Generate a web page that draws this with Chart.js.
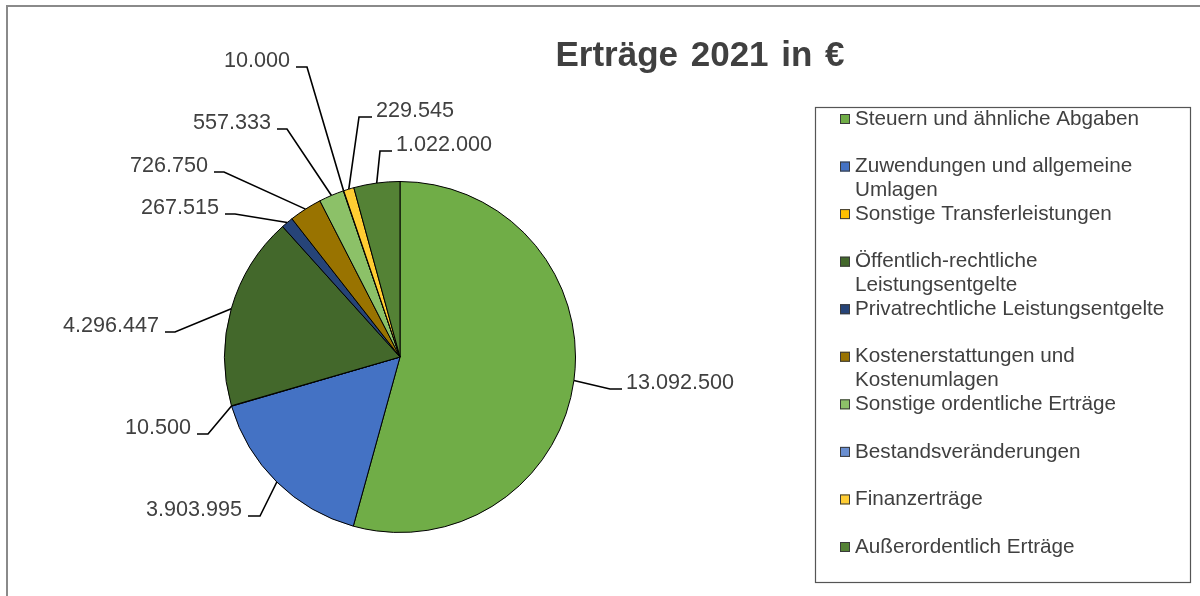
<!DOCTYPE html>
<html>
<head>
<meta charset="utf-8">
<script src="https://cdn.jsdelivr.net/npm/chart.js@4/dist/chart.umd.min.js"></script>
<style>
  html, body { margin: 0; padding: 0; background: #ffffff; }
  #wrap { width: 1200px; height: 596px; position: relative; }
</style>
</head>
<body>
<div id="wrap"><canvas id="c" width="1200" height="596"></canvas></div>
<script>
// ---- data ----
const chartTitle = 'Erträge 2021 in €';
const categories = [
  'Steuern und ähnliche Abgaben',
  'Zuwendungen und allgemeine Umlagen',
  'Sonstige Transferleistungen',
  'Öffentlich-rechtliche Leistungsentgelte',
  'Privatrechtliche Leistungsentgelte',
  'Kostenerstattungen und Kostenumlagen',
  'Sonstige ordentliche Erträge',
  'Bestandsveränderungen',
  'Finanzerträge',
  'Außerordentlich Erträge'
];
const values = [13092500, 3903995, 10500, 4296447, 267515, 726750, 557333, 10000, 229545, 1022000];
const colors = ['#70AD47', '#4472C4', '#FFC000', '#43682B', '#264478', '#997300', '#8CC168', '#698ED0', '#FFCD33', '#548235'];

// ---- label layout (leader elbow / end offsets from the pie centre, px) ----
const labelLayout = [
  { ex: 210, ey: 32, hx: 222 },
  { ex: -140, ey: 159, hx: -152 },
  { ex: -192, ey: 77, hx: -203 },
  { ex: -225, ey: -25, hx: -235 },
  { ex: -165, ey: -143, hx: -175 },
  { ex: -176, ey: -185, hx: -186 },
  { ex: -113, ey: -228, hx: -123 },
  { ex: -93, ey: -290, hx: -104 },
  { ex: -41, ey: -240, hx: -28 },
  { ex: -20, ey: -206, hx: -8 }
];

const FONT = '"Liberation Sans", Arial, "DejaVu Sans", sans-serif';
const TEXT_COLOR = '#404040';

function fmtDE(n) {
  return String(Math.round(n)).replace(/\B(?=(\d{3})+(?!\d))/g, '.');
}

function wrapText(ctx, text, maxW) {
  const words = text.split(' ');
  const lines = [];
  let cur = '';
  for (const w of words) {
    const t = cur ? cur + ' ' + w : w;
    if (cur && ctx.measureText(t).width > maxW) { lines.push(cur); cur = w; }
    else cur = t;
  }
  if (cur) lines.push(cur);
  return lines;
}

const decorPlugin = {
  id: 'decor',
  beforeDraw(chart) {
    const ctx = chart.ctx;
    ctx.save();
    ctx.fillStyle = '#ffffff';
    ctx.fillRect(0, 0, chart.width, chart.height);
    // outer frame
    ctx.strokeStyle = '#8a8a8a';
    ctx.lineWidth = 2;
    ctx.strokeRect(7, 6, 1300, 700);
    ctx.restore();
  },
  afterDraw(chart) {
    const ctx = chart.ctx;
    const meta = chart.getDatasetMeta(0);
    ctx.save();

    // title
    ctx.fillStyle = TEXT_COLOR;
    ctx.font = 'bold 35px ' + FONT;
    ctx.textAlign = 'center';
    ctx.textBaseline = 'alphabetic';
    try { ctx.wordSpacing = '3px'; } catch (e) {}
    ctx.fillText(chartTitle, 700, 66);
    try { ctx.wordSpacing = '0px'; } catch (e) {}

    // data labels with leader lines
    ctx.font = '21.6px ' + FONT;
    ctx.textBaseline = 'middle';
    ctx.strokeStyle = '#000000';
    ctx.lineWidth = 1.6;
    meta.data.forEach((arc, i) => {
      const p = arc.getProps(['x', 'y', 'startAngle', 'endAngle', 'outerRadius'], true);
      const mid = (p.startAngle + p.endAngle) / 2;
      const ax = p.x + Math.cos(mid) * p.outerRadius;
      const ay = p.y + Math.sin(mid) * p.outerRadius;
      const L = labelLayout[i];
      const exx = p.x + L.ex, eyy = p.y + L.ey, hxx = p.x + L.hx;
      ctx.beginPath();
      ctx.moveTo(ax, ay);
      ctx.lineTo(exx, eyy);
      ctx.lineTo(hxx, eyy);
      ctx.stroke();
      const right = L.hx > L.ex;
      ctx.textAlign = right ? 'left' : 'right';
      ctx.fillStyle = TEXT_COLOR;
      ctx.fillText(fmtDE(values[i]), hxx + (right ? 4 : -6), eyy - 6);
    });

    // legend box
    ctx.strokeStyle = '#555555';
    ctx.lineWidth = 1.2;
    ctx.strokeRect(815.5, 107.5, 375, 475);
    ctx.font = '20.7px ' + FONT;
    ctx.textAlign = 'left';
    ctx.textBaseline = 'middle';
    const y0 = 119, step = (547 - 119) / 9, lineH = 23.5;
    categories.forEach((name, i) => {
      const y = y0 + step * i;
      ctx.fillStyle = colors[i];
      ctx.fillRect(840, y - 5, 10, 10);
      ctx.strokeStyle = '#3a3a3a';
      ctx.lineWidth = 1;
      ctx.strokeRect(840.5, y - 4.5, 9, 9);
      ctx.fillStyle = TEXT_COLOR;
      const lines = wrapText(ctx, name, 318);
      lines.forEach((ln, k) => ctx.fillText(ln, 855, y + k * lineH));
    });
    ctx.restore();
  }
};

new Chart(document.getElementById('c'), {
  type: 'pie',
  data: {
    labels: categories,
    datasets: [{
      data: values,
      backgroundColor: colors,
      borderColor: '#000000',
      borderWidth: 1
    }]
  },
  options: {
    responsive: false,
    animation: false,
    devicePixelRatio: 1,
    layout: { padding: { left: 224, right: 624, top: 181, bottom: 63 } },
    plugins: {
      legend: { display: false },
      title: { display: false },
      tooltip: { enabled: false }
    }
  },
  plugins: [decorPlugin]
});
</script>
</body>
</html>
